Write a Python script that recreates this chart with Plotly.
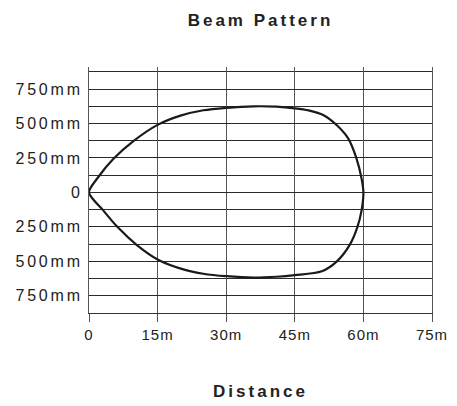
import plotly.graph_objects as go

# Beam outline: upper branch (0 -> 60 m), then lower branch back (60 -> 0 m)
upper_x = [0, 2, 5.3, 9.7, 15, 20, 25, 30, 36, 41, 45, 48, 51.3, 54.2, 56.7, 58.5, 59.6, 60]
upper_y = [0, 110, 242, 372, 490, 557, 596, 614, 625, 622, 610, 595, 560, 487, 390, 245, 100, 0]
lower_x = [60, 59.6, 58.7, 57.1, 54.2, 50.9, 45, 41, 36, 30, 25, 21, 15.2, 10.4, 6.4, 3.1, 0]
lower_y = [0, -130, -250, -375, -500, -572, -600, -612, -618, -608, -590, -562, -490, -380, -257, -130, 0]

x_tick_vals = [0, 15, 30, 45, 60, 75]
x_tick_text = ["0", "15m", "30m", "45m", "60m", "75m"]
y_tick_vals = [-750, -500, -250, 0, 250, 500, 750]
y_tick_text = ["750mm", "500mm", "250mm", "0", "250mm", "500mm", "750mm"]

FONT = "Liberation Sans, Arial, sans-serif"


def sp(t, ls):
    return f'<span style="letter-spacing:{ls}px">{t}</span>'


fig = go.Figure()
fig.add_trace(go.Scatter(
    x=upper_x + lower_x[1:],
    y=upper_y + lower_y[1:],
    mode="lines",
    line=dict(color="#1a1a1a", width=2.2, shape="spline", smoothing=0.8),
    hoverinfo="skip",
    showlegend=False,
))

fig.update_layout(
    width=457, height=406,
    margin=dict(l=89, r=25, t=67, b=93, autoexpand=False),
    paper_bgcolor="white", plot_bgcolor="white",
    font=dict(family=FONT, color="#222"),
    title=dict(text="<b>" + sp("Beam Pattern", 3) + "</b>",
               x=0.5, xref="paper", xanchor="center",
               y=1 - 20 / 406, yref="container", yanchor="middle",
               font=dict(size=17, family=FONT, color="#222")),
    showlegend=False,
)

fig.update_xaxes(
    range=[0, 75], automargin=False,
    tickvals=x_tick_vals, ticktext=[sp(t, 1) for t in x_tick_text],
    tickfont=dict(size=15, family=FONT, color="#222"),
    ticks="outside", ticklen=8, tickcolor="#555", tickwidth=1,
    showgrid=True, gridcolor="#555", gridwidth=1,
    zeroline=False,
    showline=True, linecolor="#333", linewidth=1,
    title=dict(text="<b>" + sp("Distance", 3) + "</b>",
               font=dict(size=17, family=FONT, color="#222"), standoff=43),
)
fig.update_yaxes(
    range=[-875, 910], automargin=False,
    tickvals=y_tick_vals, ticktext=[sp(t, 2.8) for t in y_tick_text],
    tickfont=dict(size=16, family=FONT, color="#222"),
    ticks="", ticklabelstandoff=2,
    showgrid=True, gridcolor="#2a2a2a", gridwidth=1,
    minor=dict(tick0=0, dtick=125, showgrid=True, gridcolor="#2a2a2a", gridwidth=1),
    zeroline=False,
    showline=True, mirror=True, linecolor="#555", linewidth=1,
)

fig.write_html("out.html", config={"displayModeBar": False},
               post_script="document.body.style.margin='0';")
